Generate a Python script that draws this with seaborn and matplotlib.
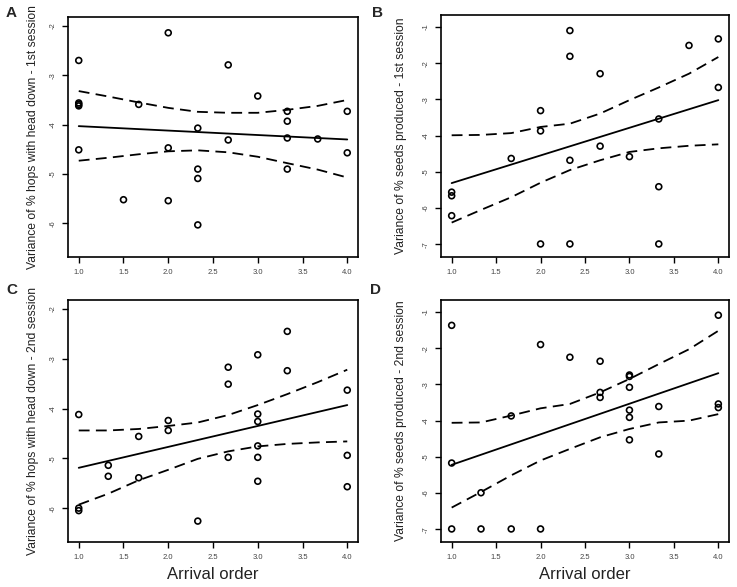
import numpy as np
import pandas as pd
import matplotlib
matplotlib.use("Agg")
import matplotlib.pyplot as plt
import seaborn as sns

sns.set_theme(style="white")
plt.rcParams["font.family"] = ["Liberation Sans", "DejaVu Sans"]

# ---- data ----
# A: hops with head down, 1st session
a_x = [1.0, 2.0, 2.67, 3.0, 1.0, 1.0, 1.0, 1.67, 3.33, 4.0, 3.33, 2.33, 2.67, 3.33,
       3.67, 1.0, 2.0, 4.0, 2.33, 3.33, 2.33, 1.5, 2.0, 2.33]
a_y = [-2.70, -2.14, -2.79, -3.42, -3.56, -3.59, -3.62, -3.59, -3.73, -3.73, -3.93,
       -4.07, -4.31, -4.27, -4.29, -4.51, -4.47, -4.57, -4.90, -4.90, -5.09, -5.52,
       -5.54, -6.03]
# B: seeds produced, 1st session
b_x = [2.33, 2.33, 3.67, 4.0, 2.67, 4.0, 2.0, 2.0, 3.33, 2.67, 1.67, 2.33, 3.0, 3.33,
       1.0, 1.0, 1.0, 2.0, 2.33, 3.33]
b_y = [-1.10, -1.81, -1.51, -1.33, -2.29, -2.67, -3.31, -3.87, -3.54, -4.29, -4.63,
       -4.68, -4.58, -5.41, -5.56, -5.66, -6.21, -6.99, -6.99, -6.99]
# C: hops with head down, 2nd session
c_x = [3.33, 3.0, 2.67, 3.33, 2.67, 4.0, 1.0, 3.0, 3.0, 2.0, 2.0, 1.67, 3.0, 2.67,
       3.0, 4.0, 1.33, 1.33, 1.67, 3.0, 4.0, 1.0, 1.0, 2.33]
c_y = [-2.45, -2.92, -3.17, -3.24, -3.51, -3.63, -4.12, -4.11, -4.26, -4.24, -4.44,
       -4.56, -4.75, -4.98, -4.98, -4.94, -5.14, -5.36, -5.39, -5.46, -5.57, -6.00,
       -6.05, -6.26]
# D: seeds produced, 2nd session
d_x = [1.0, 4.0, 2.0, 2.33, 2.67, 3.0, 3.0, 3.0, 2.67, 2.67, 3.33, 4.0, 4.0, 1.67,
       3.0, 3.0, 3.0, 3.33, 1.0, 1.33, 1.0, 1.33, 1.67, 2.0]
d_y = [-1.37, -1.09, -1.90, -2.25, -2.36, -2.74, -2.78, -3.08, -3.22, -3.36, -3.61,
       -3.54, -3.64, -3.87, -3.71, -3.91, -4.53, -4.92, -5.17, -5.99, -6.99, -6.99,
       -6.99, -6.99]

# fitted lines (value at arrival order 1 and 4)
fit_x = [1.0, 4.0]
a_fit = [-4.03, -4.30]
b_fit = [-5.31, -3.02]
c_fit = [-5.19, -3.93]
d_fit = [-5.22, -2.69]

# confidence bands
band_x = [1.0, 1.33, 1.67, 2.0, 2.33, 2.67, 3.0, 3.33, 3.67, 4.0]
a_hi = [-3.32, -3.43, -3.55, -3.66, -3.74, -3.76, -3.76, -3.70, -3.62, -3.50]
a_lo = [-4.73, -4.67, -4.60, -4.54, -4.52, -4.56, -4.65, -4.78, -4.91, -5.07]
b_hi = [-3.99, -3.98, -3.93, -3.76, -3.67, -3.39, -3.02, -2.67, -2.29, -1.83]
b_lo = [-6.40, -6.05, -5.70, -5.30, -4.95, -4.68, -4.45, -4.35, -4.28, -4.24]
c_hi = [-4.44, -4.44, -4.41, -4.35, -4.28, -4.13, -3.93, -3.71, -3.47, -3.22]
c_lo = [-5.93, -5.71, -5.44, -5.23, -5.01, -4.86, -4.76, -4.71, -4.68, -4.66]
d_hi = [-4.06, -4.05, -3.86, -3.66, -3.54, -3.22, -2.85, -2.44, -2.03, -1.52]
d_lo = [-6.40, -5.97, -5.51, -5.10, -4.78, -4.46, -4.23, -4.05, -4.00, -3.82]

x_ticks = [1.0, 1.5, 2.0, 2.5, 3.0, 3.5, 4.0]
hops_ticks = [-2, -3, -4, -5, -6]
seeds_ticks = [-1, -2, -3, -4, -5, -6, -7]

panels = [
    ("A", a_x, a_y, a_fit, a_hi, a_lo, "Variance of % hops with head down - 1st session", hops_ticks, (-6.68, -1.82)),
    ("B", b_x, b_y, b_fit, b_hi, b_lo, "Variance of % seeds produced - 1st session", seeds_ticks, (-7.35, -0.67)),
    ("C", c_x, c_y, c_fit, c_hi, c_lo, "Variance of % hops with head down - 2nd session", hops_ticks, (-6.68, -1.82)),
    ("D", d_x, d_y, d_fit, d_hi, d_lo, "Variance of % seeds produced - 2nd session", seeds_ticks, (-7.35, -0.67)),
]

W, H = 737, 587
fig = plt.figure(figsize=(W / 100, H / 100), dpi=100)
boxes = {
    "A": (68, 17, 290, 240),
    "B": (441, 15, 288, 242),
    "C": (68, 300, 290, 242),
    "D": (441, 300, 288, 242),
}
letter_pos = {"A": (6, 17), "B": (372, 17), "C": (6, 294), "D": (370, 294)}
ylab_x = {"A": 39, "B": 407, "C": 39, "D": 407}

for letter, xs, ys, fit, hi, lo, ylab, yt, ylim in panels:
    l, t, w, h = boxes[letter]
    ax = fig.add_axes([l / W, 1 - (t + h) / H, w / W, h / H])
    pts = pd.DataFrame({"x": xs, "y": ys})
    sns.scatterplot(data=pts, x="x", y="y", ax=ax, marker="o", s=18,
                    facecolor="none", edgecolor="black", linewidth=1.2, zorder=3)
    sns.lineplot(x=fit_x, y=fit, ax=ax, color="black", linewidth=1.3)
    sns.lineplot(x=band_x, y=hi, ax=ax, color="black", linewidth=1.3,
                 linestyle=(0, (6, 3.5)))
    sns.lineplot(x=band_x, y=lo, ax=ax, color="black", linewidth=1.3,
                 linestyle=(0, (6, 3.5)))

    ax.set_xlim(0.88, 4.12)
    ax.set_ylim(*ylim)
    ax.set_xticks(x_ticks)
    ax.set_xticklabels([f"{v:.1f}" for v in x_ticks])
    ax.set_yticks(yt)
    ax.set_yticklabels([str(v) for v in yt], rotation=90, va="center")
    ax.tick_params(axis="both", direction="out", length=4.5, width=1.0,
                   color="black", labelsize=5.5, labelcolor="#444444", pad=4,
                   bottom=True, left=True)
    for sp in ax.spines.values():
        sp.set_visible(True)
        sp.set_color("black")
        sp.set_linewidth(1.2)

    ax.set_ylabel(ylab, fontsize=8.7, color="#222222")
    ax.yaxis.set_label_coords(-(l - ylab_x[letter]) / w, 0.5)
    if letter in ("C", "D"):
        ax.set_xlabel("Arrival order", fontsize=12, color="#222222")
        ax.xaxis.set_label_coords(0.5, -(567 - (t + h)) / h)
    else:
        ax.set_xlabel("")

    lx, ly = letter_pos[letter]
    fig.text(lx / W, 1 - ly / H, letter, fontsize=11, fontweight="bold",
             ha="left", va="baseline")

fig.savefig("out.png", dpi=100)
